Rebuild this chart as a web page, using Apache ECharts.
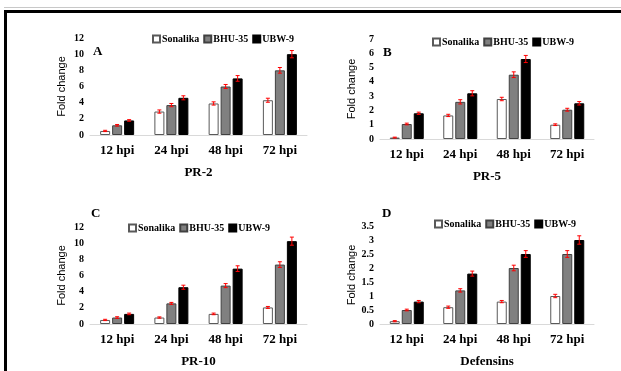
<!DOCTYPE html>
<html lang="en">
<head>
<meta charset="UTF-8">
<title>Fold change</title>
<script src="https://cdn.jsdelivr.net/npm/echarts@6/dist/echarts.min.js"></script>
<style>
  html, body { margin: 0; padding: 0; background: #fff; }
  #main { width: 621px; height: 371px; }
</style>
</head>
<body>
<div id="main"></div>
<script>
// categories and series names
var categories = ['12 hpi', '24 hpi', '48 hpi', '72 hpi'];
var seriesNames = ['Sonalika', 'BHU-35', 'UBW-9'];

// panel A - PR-2
var prA_sonalika = [0.5, 2.9, 3.9, 4.3];
var prA_bhu = [1.2, 3.7, 6.0, 8.0];
var prA_ubw = [1.8, 4.6, 7.0, 10.0];
var prA_err = [[0.08, 0.2, 0.2, 0.25], [0.1, 0.2, 0.25, 0.35], [0.1, 0.25, 0.35, 0.45]];

// panel B - PR-5
var prB_sonalika = [0.1, 1.65, 2.8, 1.0];
var prB_bhu = [1.05, 2.6, 4.5, 2.05];
var prB_ubw = [1.8, 3.2, 5.6, 2.5];
var prB_err = [[0.03, 0.08, 0.12, 0.06], [0.06, 0.15, 0.2, 0.1], [0.08, 0.18, 0.25, 0.12]];

// panel C - PR-10
var prC_sonalika = [0.5, 0.8, 1.25, 2.05];
var prC_bhu = [0.8, 2.55, 4.75, 7.35];
var prC_ubw = [1.25, 4.55, 6.85, 10.25];
var prC_err = [[0.08, 0.08, 0.1, 0.12], [0.1, 0.12, 0.25, 0.35], [0.1, 0.25, 0.35, 0.5]];

// panel D - Defensins
var prD_sonalika = [0.1, 0.6, 0.8, 1.0];
var prD_bhu = [0.5, 1.2, 2.0, 2.5];
var prD_ubw = [0.8, 1.8, 2.5, 3.0];
var prD_err = [[0.02, 0.04, 0.04, 0.06], [0.03, 0.06, 0.1, 0.12], [0.04, 0.09, 0.12, 0.15]];

// axis ranges
var yMax = [12, 7, 12, 3.5];
var yStep = [2, 1, 2, 0.5];
var panelLetters = ['A', 'B', 'C', 'D'];
var panelTitles = ['PR-2', 'PR-5', 'PR-10', 'Defensins'];

var panels = [
  [prA_sonalika, prA_bhu, prA_ubw, prA_err],
  [prB_sonalika, prB_bhu, prB_ubw, prB_err],
  [prC_sonalika, prC_bhu, prC_ubw, prC_err],
  [prD_sonalika, prD_bhu, prD_ubw, prD_err]
];

var serif = '"Liberation Serif", "Times New Roman", serif';
var sans = '"Liberation Sans", Arial, sans-serif';

var grids = [
  { left: 90, top: 38, width: 217, height: 97 },
  { left: 380, top: 39, width: 214, height: 100 },
  { left: 90, top: 227, width: 217, height: 97 },
  { left: 380, top: 226, width: 214, height: 98 }
];
var letterPos = [[93, 45], [383, 46], [91, 207], [382, 207]];
var legendPos = [[152, 34], [432, 37], [128, 223], [434, 219]];

var barStyles = [
  { color: '#ffffff', borderColor: '#595959', borderWidth: 1 },
  { color: '#808080', borderColor: '#404040', borderWidth: 1 },
  { color: '#000000', borderColor: '#000000', borderWidth: 1 }
];

var BAR_W = 10, BAR_GAP = 2;

function errorRender(offset) {
  return function (params, api) {
    var x = api.value(0), lo = api.value(1), hi = api.value(2);
    var pLo = api.coord([x, lo]);
    var pHi = api.coord([x, hi]);
    var cx = pLo[0] + offset;
    var st = { stroke: '#ff0000', lineWidth: 1 };
    return {
      type: 'group',
      children: [
        { type: 'line', shape: { x1: cx, y1: pLo[1], x2: cx, y2: pHi[1] }, style: st },
        { type: 'line', shape: { x1: cx - 2, y1: pLo[1], x2: cx + 2, y2: pLo[1] }, style: st },
        { type: 'line', shape: { x1: cx - 2, y1: pHi[1], x2: cx + 2, y2: pHi[1] }, style: st }
      ]
    };
  };
}

var xAxes = [], yAxes = [], series = [], titles = [], legends = [];

panels.forEach(function (p, gi) {
  xAxes.push({
    gridIndex: gi,
    type: 'category',
    data: categories,
    axisLine: { lineStyle: { color: '#d9d9d9' } },
    axisTick: { show: false },
    axisLabel: { color: '#000', fontFamily: serif, fontWeight: 'bold', fontSize: 13, margin: 9 },
    name: panelTitles[gi],
    nameLocation: 'middle',
    nameGap: 31,
    nameTextStyle: { color: '#000', fontFamily: serif, fontWeight: 'bold', fontSize: 13 }
  });
  yAxes.push({
    gridIndex: gi,
    type: 'value',
    min: 0,
    max: yMax[gi],
    interval: yStep[gi],
    axisLine: { show: false },
    axisTick: { show: false },
    splitLine: { show: false },
    axisLabel: { color: '#000', fontFamily: serif, fontWeight: 'bold', fontSize: 10, margin: 6 },
    name: 'Fold change',
    nameLocation: 'middle',
    nameRotate: 90,
    nameGap: 23,
    nameTextStyle: { color: '#000', fontFamily: sans, fontSize: 11 }
  });
  for (var s = 0; s < 3; s++) {
    series.push({
      name: seriesNames[s],
      type: 'bar',
      xAxisIndex: gi,
      yAxisIndex: gi,
      data: p[s],
      barWidth: BAR_W,
      barGap: '20%',
      itemStyle: barStyles[s],
      animation: false
    });
  }
  for (var s2 = 0; s2 < 3; s2++) {
    var errData = p[s2].map(function (v, i) {
      return [i, v - p[3][s2][i], v + p[3][s2][i]];
    });
    series.push({
      type: 'custom',
      xAxisIndex: gi,
      yAxisIndex: gi,
      renderItem: errorRender((s2 - 1) * (BAR_W + BAR_GAP)),
      data: errData,
      z: 5,
      silent: true,
      animation: false
    });
  }
  titles.push({
    text: panelLetters[gi],
    left: letterPos[gi][0],
    top: letterPos[gi][1],
    padding: 0,
    textStyle: { color: '#000', fontFamily: serif, fontWeight: 'bold', fontSize: 13 }
  });
  legends.push({
    data: seriesNames,
    left: legendPos[gi][0],
    top: legendPos[gi][1],
    padding: 0,
    itemWidth: 7,
    itemHeight: 7,
    itemGap: 4,
    icon: 'rect',
    textStyle: { color: '#000', fontFamily: serif, fontWeight: 'bold', fontSize: 10, padding: [0, 0, 0, -3] }
  });
});

var chart = echarts.init(document.getElementById('main'));
chart.setOption({
  backgroundColor: '#ffffff',
  animation: false,
  title: titles,
  legend: legends,
  grid: grids,
  xAxis: xAxes,
  yAxis: yAxes,
  series: series,
  graphic: [
    { type: 'rect', shape: { x: 4, y: 7, width: 617, height: 1 }, style: { fill: '#c8c8c8' } },
    { type: 'rect', shape: { x: 4, y: 10, width: 617, height: 3 }, style: { fill: '#000' } },
    { type: 'rect', shape: { x: 4, y: 10, width: 3, height: 361 }, style: { fill: '#000' } }
  ]
});
</script>
</body>
</html>
